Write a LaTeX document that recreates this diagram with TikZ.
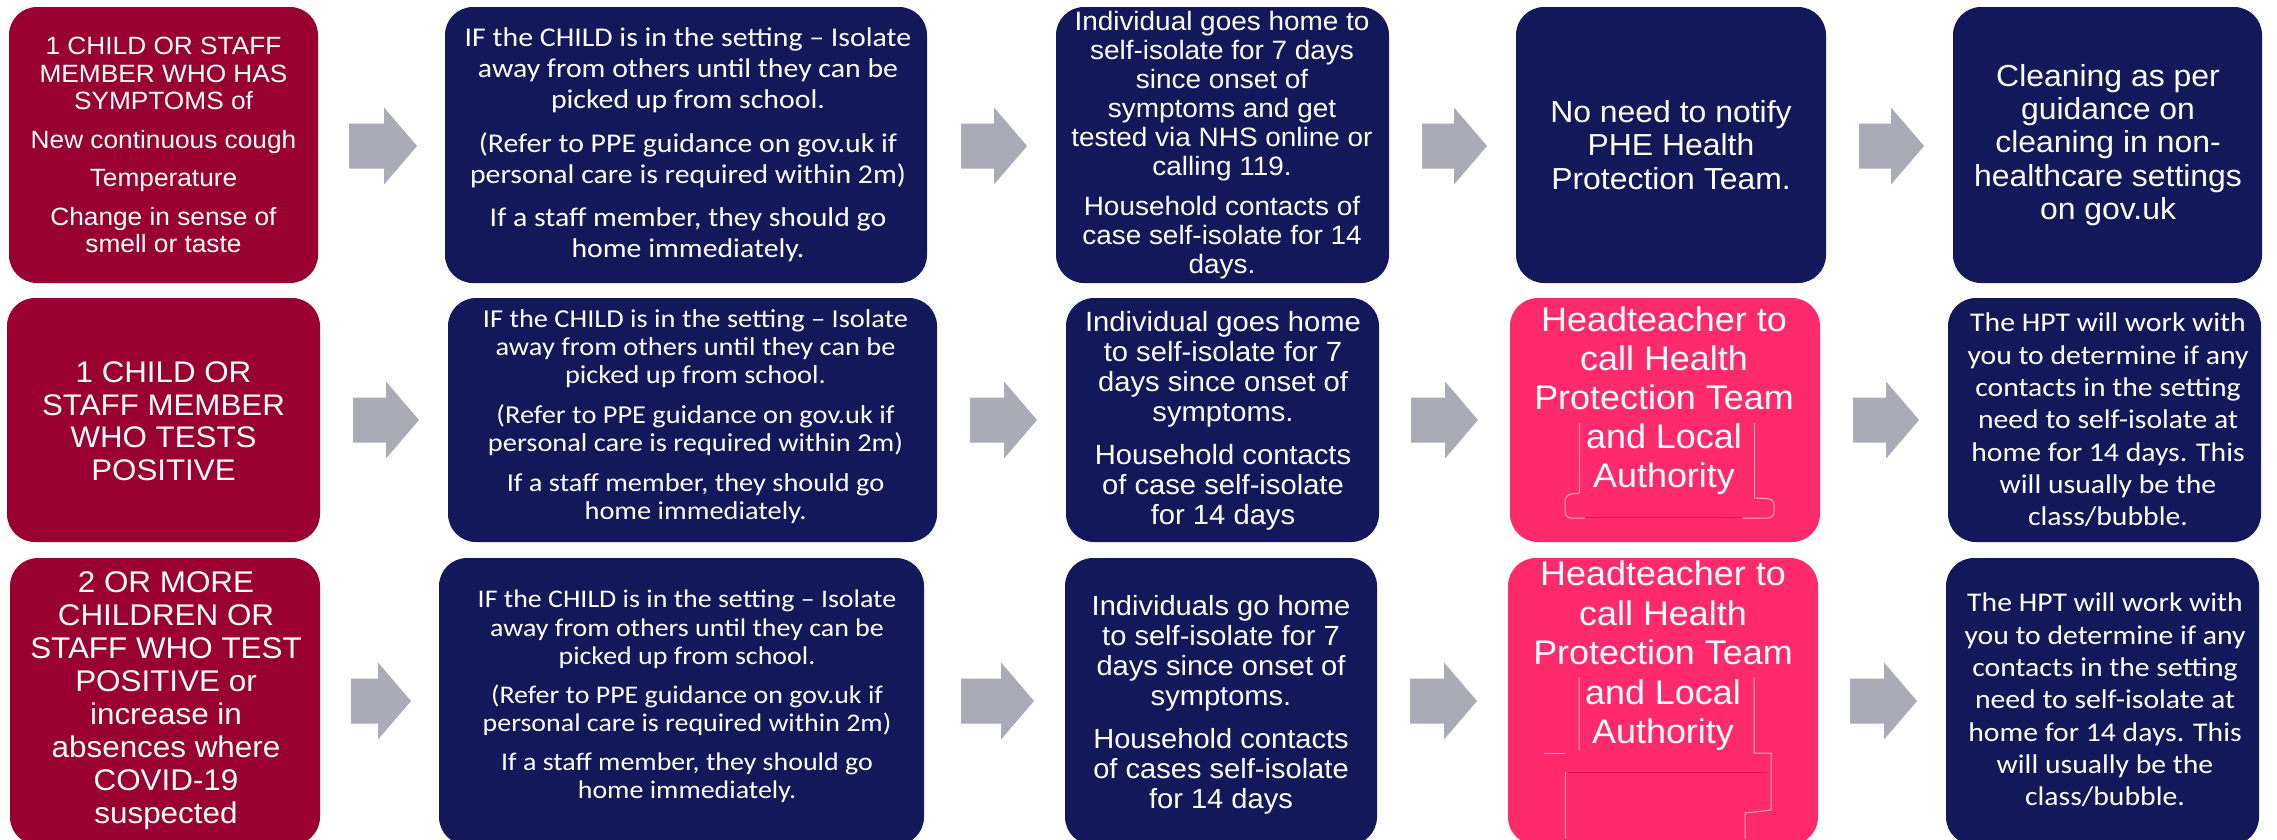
\documentclass[tikz,border=0pt]{standalone}
\usepackage{fontspec}
\setmainfont{Liberation Sans}[FakeStretch=1.05]
\newfontfamily\calfont{Carlito}[FakeStretch=1.1]
\definecolor{crimson}{HTML}{990031}
\definecolor{navy}{HTML}{12185A}
\definecolor{hotpink}{HTML}{FF2A6B}
\definecolor{arrowgrey}{HTML}{AAABB6}
\tikzset{
  box/.style={rounded corners=28pt, inner sep=0pt, draw=none},
  redbox/.style={box, fill=crimson},
  bluebox/.style={box, fill=navy},
  pinkbox/.style={box, fill=hotpink},
  txt/.style={text=white, align=center, inner sep=0pt},
  artline/.style={draw=white, line width=1pt, opacity=0.6},
  darkline/.style={draw=crimson, line width=1pt, opacity=0.45},
}
\newcommand{\barrow}[3]{% start x, tip x, centre y
  \fill[arrowgrey] (#1,#3-22.5) -- (#2-33,#3-22.5) -- (#2-33,#3-38.5) -- (#2,#3)
    -- (#2-33,#3+38.5) -- (#2-33,#3+22.5) -- (#1,#3+22.5) -- cycle;}
\begin{document}
\begin{tikzpicture}[x=1pt,y=-1pt]
\useasboundingbox[fill=white] (0,0) rectangle (2277,839);

% ---------- Row 1 ----------
\node[redbox,  minimum width=309, minimum height=276] (r1c1) at (163.5,145) {};
\node[bluebox, minimum width=482, minimum height=276] (r1c2) at (686,145) {};
\node[bluebox, minimum width=333, minimum height=276] (r1c3) at (1222.5,145) {};
\node[bluebox, minimum width=310, minimum height=276] (r1c4) at (1671,145) {};
\node[bluebox, minimum width=309, minimum height=276] (r1c5) at (2107.5,145) {};

\node[txt, font=\fontsize{25}{27.5}\selectfont] (r1c1t) at (163.5,145)
 {1 CHILD OR STAFF\\MEMBER WHO HAS\\SYMPTOMS of\\[11pt]New continuous cough\\[11pt]Temperature\\[11pt]Change in sense of\\smell or taste};
\node[txt, font=\calfont\fontsize{27.1}{31}\selectfont] (r1c2t) at (688,145)
 {IF the CHILD is in the setting – Isolate\\away from others until they can be\\picked up from school.\\[13pt](Refer to PPE guidance on gov.uk if\\personal care is required within 2m)\\[12pt]If a staff member, they should go\\home immediately.};
\node[txt, font=\fontsize{26.6}{29}\selectfont] (r1c3t) at (1222,145.5)
 {Individual goes home to\\self-isolate for 7 days\\since onset of\\symptoms and get\\tested via NHS online or\\calling 119.\\[11pt]Household contacts of\\case self-isolate for 14\\days.};
\node[txt, font=\fontsize{30.4}{33.3}\selectfont] (r1c4t) at (1671,145)
 {No need to notify\\PHE Health\\Protection Team.};
\node[txt, font=\fontsize{30.4}{33.3}\selectfont] (r1c5t) at (2108,145)
 {Cleaning as per\\guidance on\\cleaning in non-\\healthcare settings\\on gov.uk};

\barrow{349}{417}{146}
\barrow{961}{1027}{146}
\barrow{1422}{1487}{146}
\barrow{1859}{1924}{146}

% ---------- Row 2 ----------
\node[redbox,  minimum width=313, minimum height=244] (r2c1) at (163.5,420) {};
\node[bluebox, minimum width=489, minimum height=244] (r2c2) at (692.5,420) {};
\node[bluebox, minimum width=313, minimum height=244] (r2c3) at (1222.5,420) {};
\node[pinkbox, minimum width=310, minimum height=244] (r2c4) at (1665,420) {};
\node[bluebox, minimum width=313, minimum height=244] (r2c5) at (2104.5,420) {};

\node[txt, font=\fontsize{29.8}{32.5}\selectfont] (r2c1t) at (163.5,421)
 {1 CHILD OR\\STAFF MEMBER\\WHO TESTS\\POSITIVE};
\node[txt, font=\calfont\fontsize{25.8}{28}\selectfont] (r2c2t) at (695.5,416.5)
 {IF the CHILD is in the setting – Isolate\\away from others until they can be\\picked up from school.\\[12pt](Refer to PPE guidance on gov.uk if\\personal care is required within 2m)\\[12pt]If a staff member, they should go\\home immediately.};
\node[txt, font=\fontsize{27.8}{30}\selectfont] (r2c3t) at (1223,420.5)
 {Individual goes home\\to self-isolate for 7\\days since onset of\\symptoms.\\[13pt]Household contacts\\of case self-isolate\\for 14 days};
% faint outline artefacts of a text frame
\draw[artline] (1579,423) -- (1579,493) (1754,423) -- (1754,498);
\draw[artline, rounded corners=6pt] (1579,493) -- (1565,495) -- (1565,518) -- (1585,518);
\draw[artline, rounded corners=6pt] (1754,498) -- (1774,499) -- (1774,518) -- (1742,518);
\draw[darkline] (1585,517) -- (1742,517);
\node[txt, font=\fontsize{34.2}{39}\selectfont] (r2c4t) at (1664,400.5)
 {Headteacher to\\call Health\\Protection Team\\and Local\\Authority};
\node[txt, font=\calfont\fontsize{27}{32.3}\selectfont] (r2c5t) at (2108,420)
 {The HPT will work with\\you to determine if any\\contacts in the setting\\need to self-isolate at\\home for 14 days. This\\will usually be the\\class/bubble.};

\barrow{353}{419}{420}
\barrow{970}{1037}{420}
\barrow{1411}{1478}{420}
\barrow{1853}{1919}{420}

% ---------- Row 3 ----------
\node[redbox,  minimum width=310, minimum height=287] (r3c1) at (165,701.5) {};
\node[bluebox, minimum width=485, minimum height=287] (r3c2) at (681.5,701.5) {};
\node[bluebox, minimum width=312, minimum height=287] (r3c3) at (1221,701.5) {};
\node[pinkbox, minimum width=310, minimum height=287] (r3c4) at (1663,701.5) {};
\node[bluebox, minimum width=313, minimum height=287] (r3c5) at (2102.5,701.5) {};

\node[txt, font=\fontsize{29.9}{33}\selectfont] (r3c1t) at (166,700.5)
 {2 OR MORE\\CHILDREN OR\\STAFF WHO TEST\\POSITIVE or\\increase in\\absences where\\COVID-19\\suspected};
\node[txt, font=\calfont\fontsize{25.4}{28.5}\selectfont] (r3c2t) at (687,696.5)
 {IF the CHILD is in the setting – Isolate\\away from others until they can be\\picked up from school.\\[10pt](Refer to PPE guidance on gov.uk if\\personal care is required within 2m)\\[10pt]If a staff member, they should go\\home immediately.};
\node[txt, font=\fontsize{27.7}{30}\selectfont] (r3c3t) at (1221,705)
 {Individuals go home\\to self-isolate for 7\\days since onset of\\symptoms.\\[13pt]Household contacts\\of cases self-isolate\\for 14 days};
\draw[artline] (1579,677) -- (1579,750) (1754,677) -- (1754,753) -- (1771,753) -- (1771,810) -- (1745,813) -- (1745,839);
\draw[artline] (1544,753) -- (1565,753) (1565,772) -- (1565,839);
\draw[darkline] (1568,772) -- (1767,772);
\node[txt, font=\fontsize{34.2}{39.5}\selectfont] (r3c4t) at (1663,656)
 {Headteacher to\\call Health\\Protection Team\\and Local\\Authority};
\node[txt, font=\calfont\fontsize{27}{32.3}\selectfont] (r3c5t) at (2105,700)
 {The HPT will work with\\you to determine if any\\contacts in the setting\\need to self-isolate at\\home for 14 days. This\\will usually be the\\class/bubble.};

\barrow{351}{411}{701}
\barrow{961}{1034}{701}
\barrow{1410}{1477}{701}
\barrow{1850}{1917}{701}
\end{tikzpicture}
\end{document}
